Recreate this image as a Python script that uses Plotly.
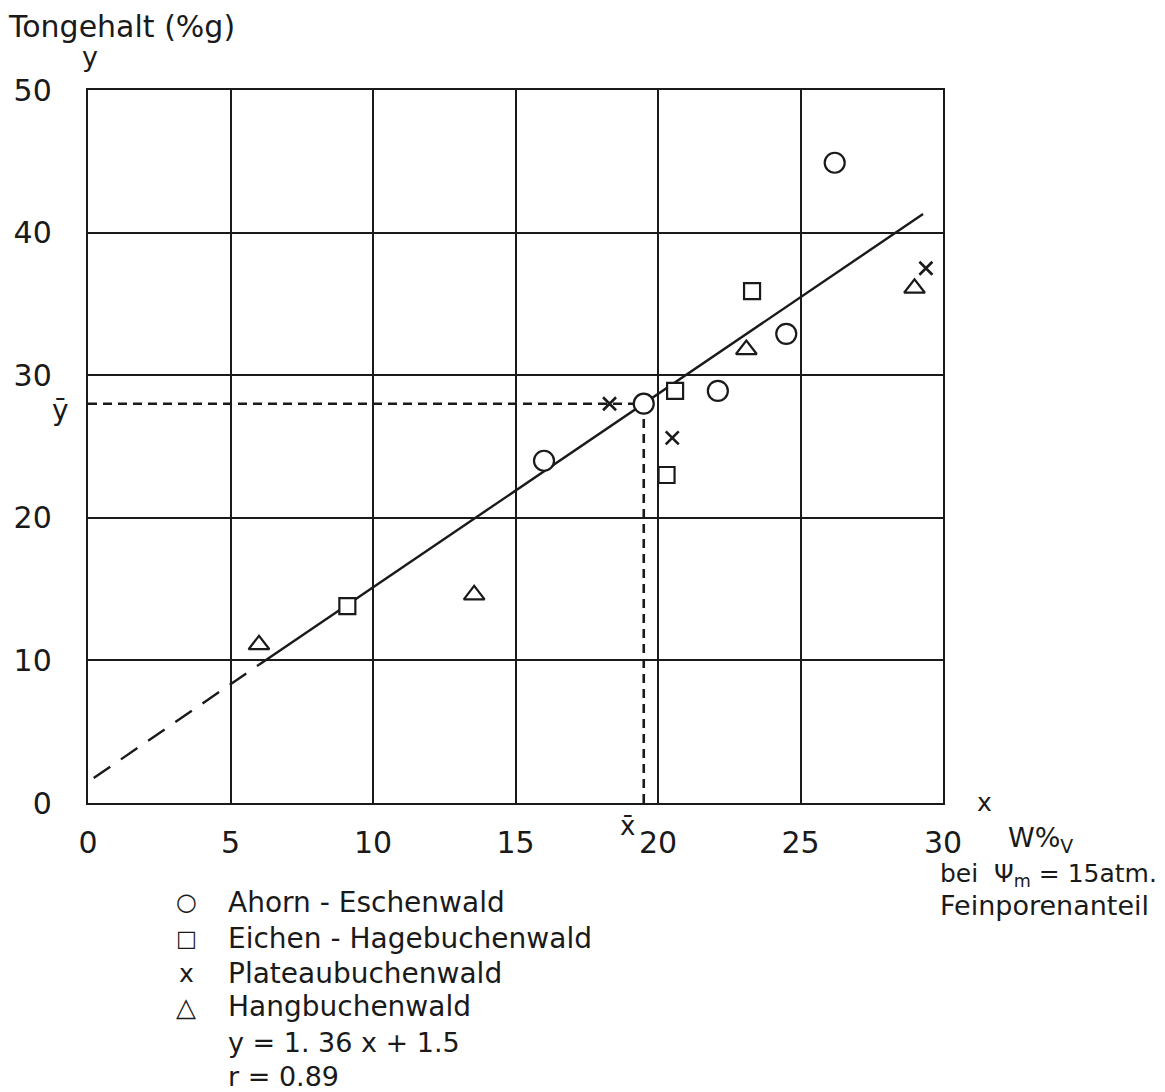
import plotly.graph_objects as go

# ---- data ----
ahorn_x = [16.0, 19.5, 22.1, 24.5, 26.2]
ahorn_y = [24.0, 28.0, 28.9, 32.9, 44.9]
eichen_x = [9.1, 20.3, 20.6, 23.3]
eichen_y = [13.8, 23.0, 28.9, 35.9]
plateau_x = [18.3, 20.5, 29.4]
plateau_y = [28.0, 25.6, 37.5]
hang_x = [6.0, 13.55, 23.1, 29.0]
hang_y = [11.1, 14.6, 31.8, 36.1]

reg_solid_x = [6.0, 29.3]
reg_solid_y = [9.7, 41.3]
reg_dash_x = [0.2, 6.0]
reg_dash_y = [1.75, 9.7]

x_mean = 19.5
y_mean = 28.0

x_ticks = [0, 5, 10, 15, 20, 25, 30]
y_ticks = [0, 10, 20, 30, 40, 50]

legend_names = ["Ahorn - Eschenwald", "Eichen - Hagebuchenwald",
                "Plateaubuchenwald", "Hangbuchenwald"]
legend_glyphs = ["○", "□", "x", "△"]
equation_text = "y = 1. 36 x + 1.5"
r_text = "r = 0.89"

FONT = "DejaVu Sans"
INK = "#1a1a1a"

# page offset of the plot div (browser body margin)
OFF = 8
W, H = 1165 - OFF, 1092 - OFF
# plot area in page pixels
L, R, T, B = 88, 943, 90, 803


def px(xp):
    return (xp - L) / (R - L)


def py(yp):
    return (B - yp) / (B - T)


fig = go.Figure()

# mean lines
fig.add_trace(go.Scatter(x=[0, x_mean], y=[y_mean, y_mean], mode="lines",
                         line=dict(color=INK, width=2.6, dash="9px,6px"),
                         showlegend=False, hoverinfo="skip"))
fig.add_trace(go.Scatter(x=[x_mean, x_mean], y=[0, y_mean], mode="lines",
                         line=dict(color=INK, width=2.6, dash="9px,6px"),
                         showlegend=False, hoverinfo="skip"))
# regression line
fig.add_trace(go.Scatter(x=reg_dash_x, y=reg_dash_y, mode="lines",
                         line=dict(color=INK, width=2.4, dash="20px,13px"),
                         showlegend=False, hoverinfo="skip"))
fig.add_trace(go.Scatter(x=reg_solid_x, y=reg_solid_y, mode="lines",
                         line=dict(color=INK, width=2.4),
                         showlegend=False, hoverinfo="skip"))

mk_line = dict(color=INK, width=2.2)
fig.add_trace(go.Scatter(x=ahorn_x, y=ahorn_y, mode="markers", name=legend_names[0],
                         marker=dict(symbol="circle", size=20, color="white", line=mk_line),
                         showlegend=False))
fig.add_trace(go.Scatter(x=eichen_x, y=eichen_y, mode="markers", name=legend_names[1],
                         marker=dict(symbol="square", size=16, color="white", line=mk_line),
                         showlegend=False))
fig.add_trace(go.Scatter(x=plateau_x, y=plateau_y, mode="markers", name=legend_names[2],
                         marker=dict(symbol="x-thin", size=13, color=INK,
                                     line=dict(color=INK, width=2.6)),
                         showlegend=False))
fig.add_trace(go.Scatter(x=hang_x, y=hang_y, mode="markers", name=legend_names[3],
                         marker=dict(symbol="triangle-up", size=18, color="white", line=mk_line),
                         showlegend=False))

axis_common = dict(showgrid=True, gridcolor=INK, gridwidth=2, zeroline=False,
                   showline=True, linecolor=INK, linewidth=2.4, mirror=True,
                   automargin=False,
                   ticks="", tickfont=dict(family=FONT, size=30, color=INK))

fig.update_xaxes(range=[0, 30], tickvals=x_ticks, ticktext=[str(v) for v in x_ticks],
                 ticklabelstandoff=12, **axis_common)
fig.update_yaxes(range=[0, 50], tickvals=y_ticks, ticktext=[str(v) for v in y_ticks],
                 ticklabelstandoff=28, **axis_common)

ann = []


def add_text(text, xp, yp, size=26, xanchor="left"):
    ann.append(dict(text=text, x=px(xp), y=py(yp), xref="paper", yref="paper",
                    xanchor=xanchor, yanchor="middle", showarrow=False,
                    font=dict(family=FONT, size=size, color=INK)))


add_text("Tongehalt (%g)", 6, 26, 30)
add_text("y", 90, 57, 27, "center")
add_text("ȳ", 60, 410, 28, "center")
add_text("x̄", 627, 826, 26, "center")
add_text("x", 985, 802, 25, "center")
add_text("W%<sub>V</sub>", 1006, 840, 27)
add_text("bei  Ψ<sub>m</sub> = 15atm.", 938, 875, 25)
add_text("Feinporenanteil", 938, 905, 27)

legend_rows = [902, 938, 973, 1007]
glyph_sizes = [24, 22, 25, 26]
for name, glyph, gs, yr in zip(legend_names, legend_glyphs, glyph_sizes, legend_rows):
    add_text(glyph, 186, yr, gs, "center")
    add_text(name, 226, yr, 28)
add_text(equation_text, 226, 1042, 27)
add_text(r_text, 226, 1076, 27)

fig.update_layout(
    width=W, height=H,
    margin=dict(l=L - OFF, r=W - (R - OFF), t=T - OFF, b=H - (B - OFF), autoexpand=False),
    paper_bgcolor="white", plot_bgcolor="white",
    font=dict(family=FONT, color=INK),
    annotations=ann,
    showlegend=False,
)

fig.write_html("out.html")
